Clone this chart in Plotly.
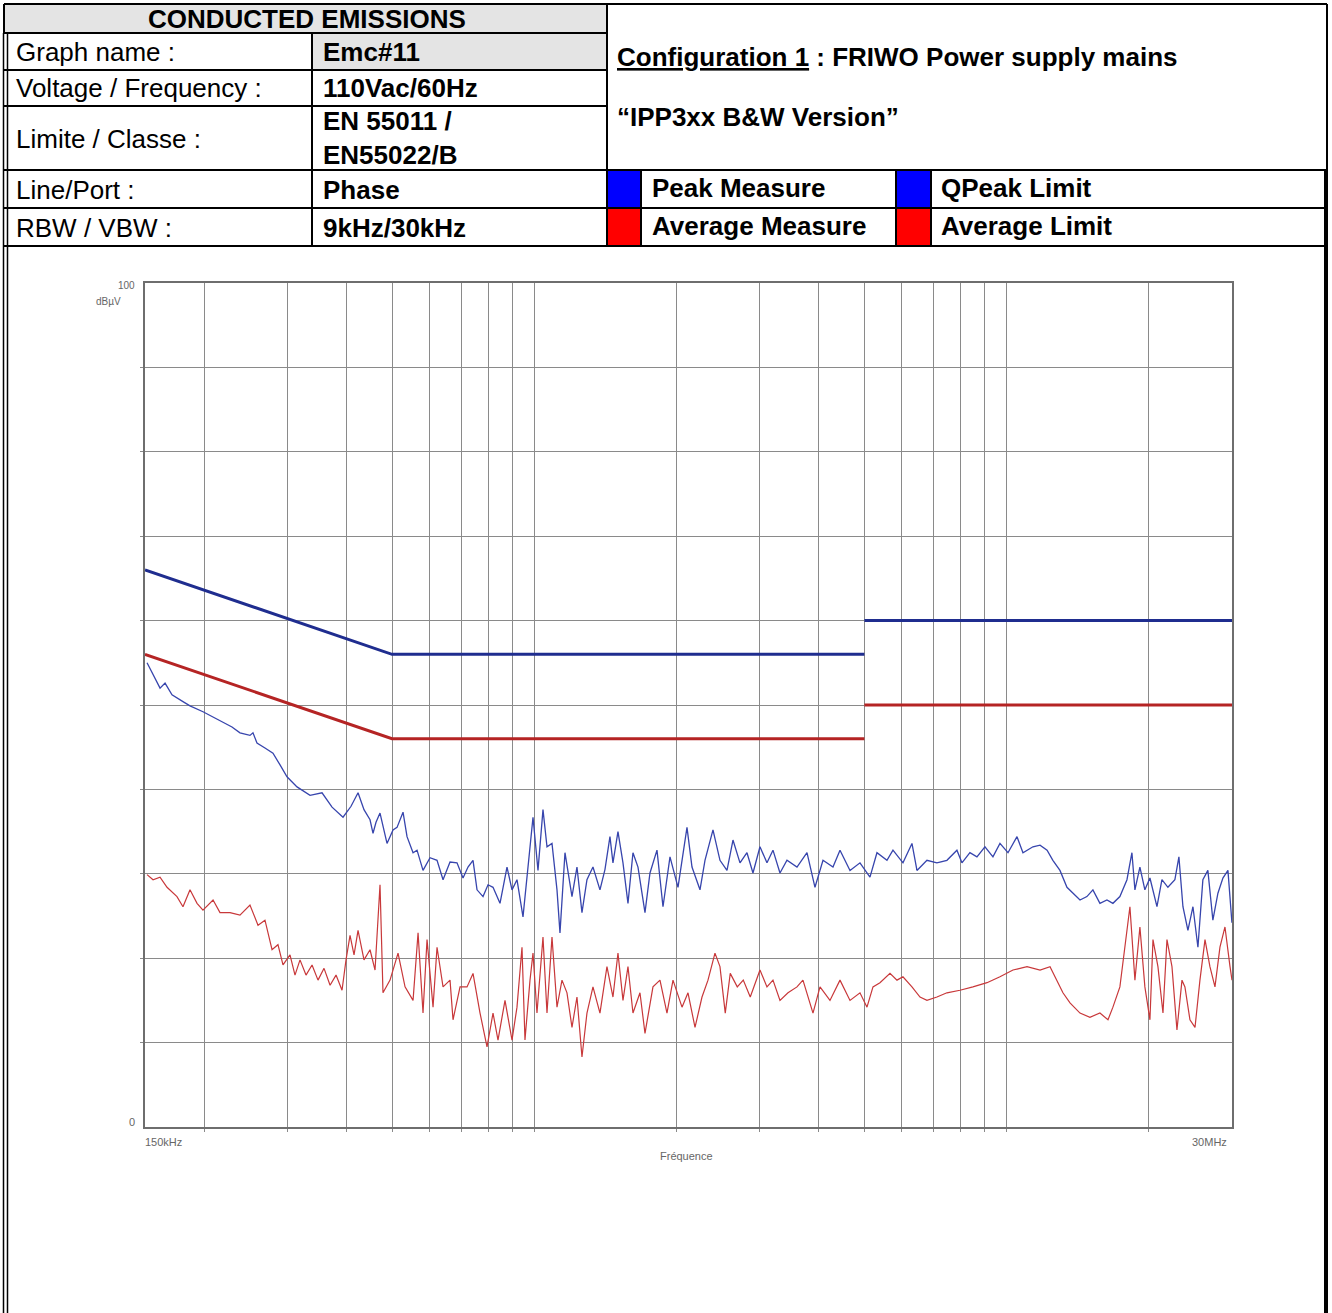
import plotly.graph_objects as go

W, H = 1332, 1313

# ---- Report header content ----
title_text = "CONDUCTED EMISSIONS"
row_labels = ["Graph name :", "Voltage / Frequency :", "Limite / Classe :", "Line/Port :", "RBW / VBW :"]
row_values = ["Emc#11", "110Vac/60Hz", "EN 55011 /<br>EN55022/B", "Phase", "9kHz/30kHz"]
config_line1 = "<u>Configuration 1</u> : FRIWO Power supply mains"
config_line2 = "\u201cIPP3xx B&W Version\u201d"
legend_names = ["Peak Measure", "Average Measure", "QPeak Limit", "Average Limit"]
legend_colors = ["#0000ff", "#ff0000", "#0000ff", "#ff0000"]

# ---- Measurement data: frequency (MHz) and level (dBµV) ----
peak_freq_mhz = [
    0.1515, 0.156, 0.1614, 0.1654, 0.1711, 0.1805, 0.1868, 0.199, 0.209, 0.2194,
    0.2292, 0.2383, 0.2502, 0.2539, 0.2589, 0.2692, 0.2799, 0.2897, 0.2997, 0.3147,
    0.3353, 0.3555, 0.3733, 0.3938, 0.4095, 0.4237, 0.4362, 0.4492, 0.4558, 0.4625,
    0.4716, 0.488, 0.5025, 0.5124, 0.5276, 0.538, 0.554, 0.5649, 0.5816, 0.6018,
    0.6227, 0.6412, 0.6634, 0.6864, 0.7068, 0.7242, 0.7421, 0.7567, 0.7792, 0.7984,
    0.8181, 0.8464, 0.8758, 0.8974, 0.9195, 0.9468, 0.9701, 0.9941, 1.0186, 1.0437,
    1.0643, 1.0905, 1.1174, 1.1338, 1.1618, 1.2021, 1.2317, 1.2621, 1.2932, 1.3316,
    1.3778, 1.4117, 1.4466, 1.4679, 1.5043, 1.5414, 1.5794, 1.6183, 1.6583, 1.7159,
    1.7582, 1.8192, 1.8733, 1.9383, 2.0154, 2.1058, 2.1577, 2.2435, 2.2988, 2.3902,
    2.473, 2.5589, 2.6349, 2.7264, 2.8209, 2.9046, 3.0054, 3.1097, 3.2021, 3.3132,
    3.4283, 3.5996, 3.7794, 3.9296, 4.086, 4.29, 4.4391, 4.661, 4.8935, 5.1374,
    5.3157, 5.5814, 5.7471, 6.0338, 6.3045, 6.4599, 6.7823, 7.1205, 7.476, 7.8495,
    8.043, 8.3625, 8.6535, 8.9985, 9.3555, 9.681, 10.067, 10.52, 10.83, 11.37,
    11.77, 12.18, 12.53, 12.97, 13.42, 13.82, 14.30, 14.79, 15.23, 15.76,
    16.31, 16.79, 17.37, 17.98, 18.42, 18.69, 19.15, 19.62, 20.11, 20.81,
    21.32, 21.95, 22.71, 23.16, 23.62, 24.20, 24.80, 25.41, 26.03, 26.67,
    27.33, 28.01, 28.70, 29.41, 29.99,
]
peak_level_dbuv = [
    55.0, 53.6, 52.0, 52.6, 51.2, 50.4, 49.9, 49.2, 48.6, 48.0,
    47.4, 46.7, 46.4, 46.7, 45.5, 44.9, 44.3, 42.9, 41.5, 40.3,
    39.3, 39.6, 37.9, 36.7, 38.0, 39.6, 37.6, 36.4, 34.8, 36.1,
    37.2, 33.6, 35.2, 35.5, 37.3, 34.4, 32.5, 32.8, 30.4, 31.9,
    31.6, 29.3, 31.4, 31.3, 29.5, 30.8, 31.6, 28.1, 27.3, 28.7,
    28.4, 26.5, 30.8, 28.1, 29.3, 24.9, 30.8, 36.7, 30.4, 37.6,
    33.2, 33.6, 28.1, 23.0, 32.5, 27.3, 30.8, 25.4, 29.3, 30.8,
    28.1, 30.5, 34.4, 31.3, 35.0, 31.3, 26.5, 32.5, 30.8, 25.4,
    30.1, 32.8, 26.1, 32.0, 28.4, 35.5, 30.8, 28.1, 31.6, 35.2,
    31.6, 30.4, 34.0, 31.3, 32.5, 30.1, 33.2, 31.3, 32.8, 30.1,
    31.6, 30.8, 32.5, 28.4, 31.6, 30.8, 32.8, 30.4, 31.3, 29.6,
    32.5, 31.6, 32.8, 31.3, 33.6, 30.4, 31.6, 31.3, 31.6, 32.8,
    31.3, 32.5, 32.0, 33.2, 32.0, 33.6, 32.5, 34.4, 32.5, 33.2,
    33.4, 32.8, 31.6, 30.4, 28.4, 27.7, 26.9, 27.3, 28.1, 26.5,
    26.9, 26.5, 27.3, 29.3, 32.5, 28.1, 30.8, 28.1, 29.5, 26.1,
    29.3, 28.4, 29.3, 32.0, 26.1, 23.3, 26.1, 21.3, 29.3, 30.4,
    24.5, 27.7, 29.5, 30.4, 24.2,
]

avg_freq_mhz = [
    0.1515, 0.156, 0.1614, 0.167, 0.1753, 0.1805, 0.1868, 0.1933, 0.199, 0.209,
    0.2162, 0.227, 0.2383, 0.2502, 0.2602, 0.2692, 0.2786, 0.2868, 0.2939, 0.3041,
    0.3116, 0.3193, 0.3288, 0.3386, 0.3486, 0.359, 0.3697, 0.3806, 0.3919, 0.3996,
    0.4075, 0.4155, 0.4237, 0.4362, 0.4492, 0.4603, 0.4716, 0.4785, 0.4952, 0.5149,
    0.5328, 0.554, 0.5677, 0.5816, 0.5931, 0.6107, 0.6227, 0.6412, 0.6634, 0.6732,
    0.6966, 0.7207, 0.7421, 0.7679, 0.7945, 0.8181, 0.8382, 0.8673, 0.8974, 0.9195,
    0.9422, 0.956, 0.9797, 0.9941, 1.0136, 1.0437, 1.0643, 1.0905, 1.1174, 1.145,
    1.1732, 1.2021, 1.2317, 1.2621, 1.2932, 1.3316, 1.3778, 1.4256, 1.4679, 1.5043,
    1.5414, 1.5794, 1.6183, 1.6745, 1.7159, 1.784, 1.8459, 1.91, 1.967, 2.0552,
    2.1162, 2.1897, 2.2656, 2.3327, 2.4135, 2.473, 2.5376, 2.6001, 2.6906, 2.7704,
    2.8665, 3.0054, 3.1097, 3.2021, 3.3132, 3.4454, 3.5996, 3.7058, 3.8916, 4.0269,
    4.2276, 4.4391, 4.661, 4.8935, 5.0634, 5.2136, 5.3945, 5.664, 5.8605, 6.0338,
    6.3045, 6.5565, 6.7823, 7.1205, 7.476, 7.9665, 8.4855, 9.0885, 9.681, 10.316,
    11.045, 11.77, 12.357, 12.783, 13.16, 13.62, 14.30, 15.01, 15.76, 16.39,
    16.79, 17.37, 17.80, 18.24, 18.69, 19.15, 19.62, 20.11, 20.41, 20.91,
    21.43, 21.85, 22.39, 22.94, 23.51, 23.85, 24.44, 25.05, 25.66, 26.30,
    26.94, 27.61, 28.29, 28.99, 29.71, 30.0,
]
avg_level_dbuv = [
    29.9, 29.3, 29.6, 28.4, 27.3, 26.1, 28.1, 26.5, 25.7, 26.9,
    25.4, 25.4, 25.1, 26.3, 23.9, 24.5, 21.0, 21.6, 19.2, 20.4,
    18.0, 19.8, 18.0, 19.2, 17.4, 18.8, 16.8, 18.0, 16.2, 19.8,
    22.7, 20.4, 23.3, 19.8, 21.0, 18.6, 28.7, 15.9, 17.4, 20.6,
    16.6, 15.0, 23.0, 13.5, 22.2, 14.2, 21.3, 16.6, 17.4, 12.7,
    16.6, 16.6, 18.2, 13.5, 9.5, 13.5, 10.3, 15.0, 10.3, 14.2,
    21.3, 10.3, 17.4, 20.6, 13.5, 22.5, 13.5, 22.5, 14.2, 17.4,
    15.9, 11.8, 15.4, 8.3, 13.5, 16.6, 13.5, 19.0, 15.4, 20.6,
    15.0, 19.0, 13.5, 15.9, 11.1, 16.6, 17.4, 13.5, 17.4, 14.2,
    15.9, 11.8, 15.4, 17.4, 20.6, 19.0, 13.5, 18.2, 16.6, 17.4,
    15.4, 18.6, 16.6, 17.4, 15.0, 15.9, 16.6, 17.4, 13.5, 16.6,
    15.0, 17.4, 15.0, 15.9, 14.2, 16.6, 17.1, 18.2, 17.4, 17.8,
    16.6, 15.4, 15.0, 15.4, 15.9, 16.2, 16.6, 17.1, 17.8, 18.6,
    19.0, 18.6, 19.0, 17.4, 15.9, 14.7, 13.5, 13.0, 13.5, 12.7,
    14.2, 16.6, 21.3, 26.1, 17.4, 23.7, 16.6, 12.7, 22.2, 19.0,
    13.5, 22.2, 19.0, 11.5, 17.4, 16.6, 12.7, 11.8, 17.4, 22.2,
    19.0, 16.6, 21.3, 23.7, 19.0, 17.4,
]

# EN 55022 class B limits (quasi-peak and average)
qpeak_limit_freq = [0.15, 0.5, 5.0, None, 5.0, 30.0]
qpeak_limit_level = [66, 56, 56, None, 60, 60]
avg_limit_freq = [0.15, 0.5, 5.0, None, 5.0, 30.0]
avg_limit_level = [56, 46, 46, None, 50, 50]

grid_freqs = [0.2, 0.3, 0.4, 0.5, 0.6, 0.7, 0.8, 0.9, 1, 2, 3, 4, 5, 6, 7, 8, 9, 10, 20]
grid_levels = [10, 20, 30, 40, 50, 60, 70, 80, 90]


def px(x):
    return x / W


def py(y):
    return 1 - y / H


FONT = "Liberation Sans, Arial, sans-serif"
shapes = []
annotations = []


def hline(x0, x1, y, width=2, color="black"):
    shapes.append(dict(type="line", xref="paper", yref="paper",
                       x0=px(x0), x1=px(x1), y0=py(y), y1=py(y),
                       line=dict(color=color, width=width), layer="above"))


def vline(x, y0, y1, width=2, color="black"):
    shapes.append(dict(type="line", xref="paper", yref="paper",
                       x0=px(x), x1=px(x), y0=py(y0), y1=py(y1),
                       line=dict(color=color, width=width), layer="above"))


def rect(x0, y0, x1, y1, fill):
    shapes.append(dict(type="rect", xref="paper", yref="paper",
                       x0=px(x0), x1=px(x1), y0=py(y0), y1=py(y1),
                       fillcolor=fill, line=dict(width=0), layer="below"))


def text(x, y, s, size=26, bold=False, anchor="left", color="black"):
    if bold:
        s = "<b>" + s + "</b>"
    annotations.append(dict(xref="paper", yref="paper", x=px(x), y=py(y), text=s,
                            showarrow=False, xanchor=anchor, yanchor="middle",
                            align="left", font=dict(family=FONT, size=size, color=color)))


# ---- header table ----
rect(4, 4, 607, 33, "#e4e4e4")
rect(312, 33, 607, 70, "#e4e4e4")
hline(4, 1327, 4)
vline(4, 4, 33)
hline(4, 607, 33)
hline(4, 607, 70)
hline(4, 607, 106)
hline(4, 1327, 170)
hline(4, 1327, 208)
hline(4, 1327, 246)
vline(312, 33, 246)
vline(607, 4, 246)
vline(1327, 4, 170)
vline(1326, 170, H, width=4)
vline(3.5, 33, H, width=1.5)
vline(7.5, 33, H, width=1.5)

text(307, 19, title_text, bold=True, anchor="center")
row_centers = [52, 88, 139, 190, 228]
for lab, val, yc in zip(row_labels, row_values, row_centers):
    text(14, yc, lab)
    text(321, yc if "<br>" not in val else 138, val, bold=True)

text(615, 57, config_line1, bold=True)
text(615, 117, config_line2, bold=True)

# legend swatches and names
swatch_cells = [(608, 171, 641, 208), (608, 209, 641, 246), (897, 171, 931, 208), (897, 209, 931, 246)]
name_pos = [(650, 188), (650, 226), (939, 188), (939, 226)]
for (x0, y0, x1, y1), col, name, (tx, ty) in zip(swatch_cells, legend_colors, legend_names, name_pos):
    rect(x0, y0, x1, y1, col)
    text(tx, ty, name, bold=True)
vline(641, 170, 246)
vline(896, 170, 246)
vline(931, 170, 246)

# ---- chart axis captions ----
cap = "#666666"
text(137, 285, "100", size=10, anchor="right", color=cap)
text(123, 301, "dB\u00b5V", size=10, anchor="right", color=cap)
text(137, 1122, "0", size=11, anchor="right", color=cap)
text(143, 1142, "150kHz", size=11, anchor="left", color=cap)
text(1229, 1142, "30MHz", size=11, anchor="right", color=cap)
text(686, 1156, "Fr\u00e9quence", size=11, anchor="center", color=cap)

fig = go.Figure()
fig.add_trace(go.Scatter(x=qpeak_limit_freq, y=qpeak_limit_level, mode="lines",
                         line=dict(color="#1f2d8f", width=3), connectgaps=False, name="QPeak Limit"))
fig.add_trace(go.Scatter(x=avg_limit_freq, y=avg_limit_level, mode="lines",
                         line=dict(color="#b52424", width=3), connectgaps=False, name="Average Limit"))
fig.add_trace(go.Scatter(x=avg_freq_mhz, y=avg_level_dbuv, mode="lines",
                         line=dict(color="#c8383a", width=1.2), name="Average Measure"))
fig.add_trace(go.Scatter(x=peak_freq_mhz, y=peak_level_dbuv, mode="lines",
                         line=dict(color="#3745ad", width=1.3), name="Peak Measure"))

axis_common = dict(showline=True, linecolor="#6e6e6e", linewidth=2, mirror=True,
                   showgrid=True, gridcolor="#8a8a8a", gridwidth=1, zeroline=False,
                   showticklabels=False, ticks="outside", ticklen=3, tickcolor="#8a8a8a")
fig.update_layout(
    width=W, height=H,
    margin=dict(l=0, r=0, t=0, b=0, pad=0),
    paper_bgcolor="white", plot_bgcolor="white",
    showlegend=False,
    xaxis=dict(type="log", range=[-0.823909, 1.477121], domain=[px(145), px(1232)],
               tickvals=grid_freqs, **axis_common),
    yaxis=dict(range=[0, 100], domain=[py(1127), py(283)], tickvals=grid_levels, **axis_common),
    shapes=shapes,
    annotations=annotations,
)

fig.write_html("out.html")
